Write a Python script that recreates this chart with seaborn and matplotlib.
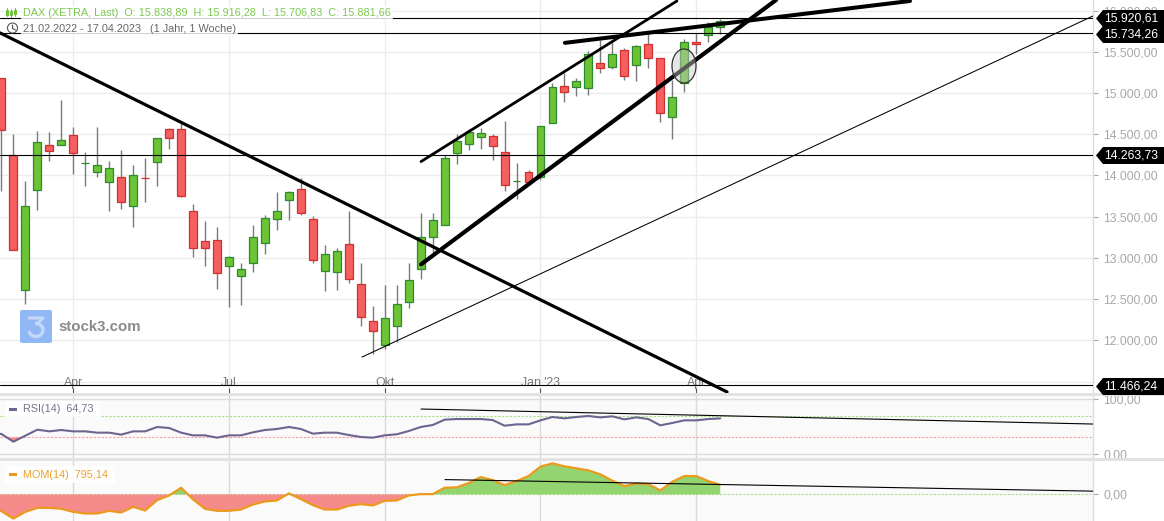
import numpy as np
import matplotlib
matplotlib.use("Agg")
import matplotlib.pyplot as plt
from matplotlib.patches import Ellipse, FancyBboxPatch, Polygon, Rectangle, Arc, Circle
import seaborn as sns

opens = [15185, 14253, 12608, 13818, 14374, 14374, 14495, 14157, 14048, 13915, 13987, 13624, 13975,
         14169, 14568, 14568, 13564, 13201, 13213, 12898, 12777, 12935, 13177, 13467, 13697, 13842,
         13467, 12838, 12826, 13165, 12681, 12233, 11942, 12172, 12463, 12862, 13249, 13394, 14278,
         14387, 14471, 14483, 14290, 13927, 14048, 13987, 14641, 15088, 15076, 15064, 15367, 15318,
         15524, 15342, 15597, 15427, 14713, 15125, 15621, 15705, 15802]
closes = [14556, 13092, 13624, 14411, 14302, 14435, 14278, 14157, 14132, 14096, 13673, 14011, 13970,
          14459, 14459, 13757, 13116, 13116, 12814, 13007, 12862, 13249, 13479, 13564, 13794, 13540,
          12971, 13044, 13080, 12741, 12281, 12112, 12269, 12439, 12729, 13249, 13455, 14217, 14423,
          14532, 14520, 14362, 13890, 13927, 13915, 14604, 15076, 15016, 15149, 15476, 15306, 15476,
          15209, 15572, 15427, 14762, 14955, 15621, 15597, 15802, 15875]
highs = [15185, 14508, 13939, 14544, 14532, 14919, 14592, 14290, 14592, 14181, 14314, 14132, 14217,
         14459, 14580, 14665, 13649, 13443, 13370, 13019, 12935, 13394, 13515, 13794, 13806, 13975,
         13503, 13153, 13116, 13564, 12935, 12414, 12668, 12668, 12935, 13540, 13540, 14253, 14508,
         14568, 14580, 14508, 14665, 14157, 14072, 14604, 15125, 15246, 15185, 15512, 15645, 15645,
         15548, 15584, 15730, 15427, 15161, 15657, 15730, 15863, 15899]
lows = [13806, 13092, 12439, 13576, 14181, 14374, 14024, 13878, 13987, 13564, 13588, 13370, 13673,
        13878, 14326, 13745, 13007, 12898, 12620, 12402, 12426, 12826, 13044, 13334, 13455, 13515,
        12935, 12596, 12608, 12693, 12172, 11833, 11894, 11979, 12390, 12741, 13056, 13394, 14145,
        14314, 14326, 14193, 13806, 13709, 13890, 13951, 14641, 14895, 14967, 14979, 15246, 15294,
        15161, 15149, 15306, 14653, 14447, 15016, 15476, 15621, 15718]

# indicator series start one week earlier than the first visible candle
rsi = [38.0, 36.4, 22.4, 33.3, 44.2, 41.2, 43.6, 41.2, 41.2, 38.8, 38.8, 35.2, 41.2, 41.2, 49.1, 47.3, 38.8,
       33.9, 33.9, 29.7, 33.9, 33.9, 39.4, 43.6, 45.5, 49.1, 45.5, 37.0, 38.8, 38.8, 34.5, 30.9, 29.7,
       33.9, 35.8, 41.8, 49.1, 52.7, 62.4, 63.6, 63.6, 63.6, 61.8, 51.5, 53.9, 53.9, 61.2, 67.3, 64.8,
       67.3, 69.1, 66.6, 68.5, 63.0, 66.6, 63.6, 52.1, 56.4, 61.2, 61.2, 63.6, 64.73]
mom = [-1000, -1380, -1987, -1435, -1104, -1104, -1187, -1435, -1573, -1573, -1352, -1490, -1021, -1325, -469,
       -83, 552, -414, -1187, -1352, -1352, -1242, -828, -580, -497, 83, -386, -883, -1242, -1242, -938,
       -800, -911, -524, -497, -83, 28, 28, 552, 580, 938, 1435, 1187, 773, 1104, 1518, 2291, 2567, 2318,
       2153, 1987, 1656, 1132, 690, 911, 856, 331, 1049, 1518, 1518, 1104, 795.14]

level_values = [15920.61, 15734.26, 14263.73, 11466.24]
price_ticks = [12000, 12500, 13000, 13500, 14000, 14500, 15000, 15500, 16000]
grid_extra = [11500]
month_pos = [6, 19, 32, 45, 58]
month_labels = ["Apr", "Jul", "Okt", "Jan '23", "Apr"]

# trend lines as (week index, value) pairs
thick_down = ([-0.12, 60.57], [15730, 11374])
upper_channel = ([35.03, 56.39], [14169, 16117])
lower_channel = ([35.03, 64.66], [12922, 16129])
top_line = ([47.04, 75.84], [15609, 16117])
thin_up = ([30.1, 91.12], [11797, 15935])
rsi_trend = ([35.03, 91.12], [81.8, 54.5])
mom_trend = ([37.03, 91.12], [1226, 273])

def de(v):
    return f"{v:,.2f}".replace(",", "#").replace(".", ",").replace("#", ".")

sns.set_theme(style="white")
plt.rcParams["font.family"] = ["Liberation Sans", "DejaVu Sans"]

W, H = 1164, 521
fig = plt.figure(figsize=(W / 100, H / 100), dpi=100, facecolor="white")

def panel(top, bottom):
    return fig.add_axes([0, 1 - bottom / H, 1093 / W, (bottom - top) / H])

ax = panel(0, 393)
ax_rsi = panel(396, 458)
ax_mom = panel(461, 521)

xlim = (-0.117, 91.12)
idx = np.arange(len(closes))
idx_ind = np.arange(-1, len(closes))
grid_c = "#ececec"
axis_c = "#dcdcdc"
tick_c = "#a8a8a8"

for a in (ax, ax_rsi, ax_mom):
    a.set_xlim(*xlim)
    a.yaxis.tick_right()
    for s in a.spines.values():
        s.set_visible(False)
    a.spines["right"].set_visible(True)
    a.spines["right"].set_color(axis_c)
    a.spines["right"].set_linewidth(1)
    a.tick_params(axis="y", length=3.6, width=0.8, color=tick_c, labelcolor=tick_c, labelsize=8.8, pad=4)
    a.set_xticks(month_pos)
    a.set_xlabel("")
    a.set_ylabel("")

# main price panel
ax.set_ylim(11361, 16129)
ax.set_yticks(price_ticks)
ax.set_yticklabels([de(v) for v in price_ticks])
for v in price_ticks + grid_extra:
    ax.axhline(v, color=grid_c, lw=1, zorder=0)
for p in month_pos:
    ax.axvline(p, color=grid_c, lw=1, zorder=0)
ax.set_xticklabels(month_labels)
ax.tick_params(axis="x", direction="in", length=3.6, width=0.8, color="#555555", labelcolor="#777777",
               labelsize=8.8, pad=-11.5, bottom=True)

ax.vlines(idx, lows, highs, color="#7a7a7a", lw=1, zorder=2)
for i in idx:
    up = closes[i] >= opens[i]
    ax.bar(i, abs(closes[i] - opens[i]), bottom=min(opens[i], closes[i]), width=0.66,
           color="#6cc334" if up else "#f45f5f", edgecolor="#2c8a30" if up else "#d22f2f",
           linewidth=0.9, zorder=3)

for v in level_values:
    ax.axhline(v - 10, color="black", lw=0.8, zorder=4)

for line, lw in ((thick_down, 2.3), (upper_channel, 2.0), (lower_channel, 3.0), (top_line, 2.9), (thin_up, 0.75)):
    sns.lineplot(x=line[0], y=line[1], ax=ax, color="black", lw=lw, zorder=5, errorbar=None, estimator=None)
ax.set_xlim(*xlim)
ax.set_ylim(11361, 16129)
ax.set_xlabel("")
ax.set_ylabel("")

# RSI panel
ax_rsi.set_facecolor("#fafafa")
ax_rsi.set_ylim(-7.3, 105.5)
ax_rsi.set_yticks([0, 100])
ax_rsi.set_yticklabels(["0,00", "100,00"])
ax_rsi.tick_params(axis="x", length=0, labelbottom=False)
for v in (0, 100):
    ax_rsi.axhline(v, color="#dedede", lw=1, zorder=0)
for p in month_pos:
    ax_rsi.axvline(p, color="#dadada", lw=1, zorder=0)
ax_rsi.plot([-0.1, 91.0], [70, 70], color="#a9dc85", lw=0.8, ls=(0, (2, 1.5)), zorder=1)
ax_rsi.plot([-0.1, 91.0], [30, 30], color="#f4a0a0", lw=0.8, ls=(0, (2, 1.5)), zorder=1)
ax_rsi.fill_between(idx_ind, rsi, 30, where=np.array(rsi) < 30, interpolate=True, color="#f48a8a", lw=0, zorder=2)
sns.lineplot(x=idx_ind, y=rsi, ax=ax_rsi, color="#6c6590", lw=1.5, zorder=3, errorbar=None, estimator=None)
sns.lineplot(x=rsi_trend[0], y=rsi_trend[1], ax=ax_rsi, color="black", lw=0.8, zorder=4, errorbar=None, estimator=None)
ax_rsi.set_xlim(*xlim)
ax_rsi.set_xlabel("")
ax_rsi.set_ylabel("")

# momentum panel
ax_mom.set_facecolor("#fafafa")
ax_mom.set_ylim(-2190, 2760)
ax_mom.set_yticks([0])
ax_mom.set_yticklabels(["0,00"])
ax_mom.tick_params(axis="x", length=0, labelbottom=False)
for p in month_pos:
    ax_mom.axvline(p, color="#dadada", lw=1, zorder=0)
ax_mom.plot([-0.1, 91.0], [0, 0], color="#a9dc85", lw=0.8, ls=(0, (2, 1.5)), zorder=1)
m = np.array(mom)
ax_mom.fill_between(idx_ind, m, 0, where=m < 0, interpolate=True, color="#f48a8a", lw=0, zorder=2)
ax_mom.fill_between(idx_ind, m, 0, where=m > 0, interpolate=True, color="#94d470", lw=0, zorder=2)
sns.lineplot(x=idx_ind, y=mom, ax=ax_mom, color="#ec9a1e", lw=1.6, zorder=3, errorbar=None, estimator=None)
sns.lineplot(x=mom_trend[0], y=mom_trend[1], ax=ax_mom, color="black", lw=0.8, zorder=4, errorbar=None, estimator=None)
ax_mom.set_xlim(*xlim)
ax_mom.set_xlabel("")
ax_mom.set_ylabel("")

# overlay in pixel coordinates for labels, separators and the logo
ov = fig.add_axes([0, 0, 1, 1], zorder=10)
ov.set_xlim(0, W)
ov.set_ylim(H, 0)
ov.axis("off")
ov.patch.set_alpha(0)

ov.add_patch(Rectangle((0, 393), W, 3, color="#e2e2e2", lw=0))
ov.add_patch(Rectangle((0, 458), W, 3, color="#e2e2e2", lw=0))

box = dict(facecolor="white", edgecolor="none", alpha=0.82, pad=1.5)
ov.text(23, 13.5, "DAX (XETRA, Last)  O: 15.838,89  H: 15.916,28  L: 15.706,83  C: 15.881,66",
        color="#7cc850", fontsize=7.85, va="center", bbox=box)
ov.text(23, 29, "21.02.2022 - 17.04.2023   (1 Jahr, 1 Woche)", color="#666666", fontsize=7.85, va="center", bbox=box)

# header icons
for x, y0, y1, b0, b1 in ((7, 8, 16, 10, 15), (11, 9, 17, 11, 15), (15, 8, 16, 10, 14)):
    ov.plot([x, x], [y0, y1], color="#6cc334", lw=0.8)
    ov.add_patch(Rectangle((x - 1, b0), 2, b1 - b0, facecolor="white", edgecolor="#6cc334", lw=0.7))
ov.add_patch(Circle((12.5, 28), 5, facecolor="white", edgecolor="#555555", lw=0.8))
ov.plot([12.5, 12.5, 15.5], [25, 28.5, 30], color="#555555", lw=0.8)

# watermark
ov.add_patch(FancyBboxPatch((20, 310), 32, 33, boxstyle="round,pad=0,rounding_size=2", facecolor="#8fb8f5", edgecolor="none"))
ov.plot([28, 43, 37], [318, 318, 324], color="#c4d8fa", lw=2.2, solid_capstyle="butt")
ov.add_patch(Arc((36, 330), 14, 13, theta1=-100, theta2=170, edgecolor="#c4d8fa", lw=2.4))
ov.text(58, 327, "stock3.com", color="#8a8a8a", fontsize=10.8, fontweight="bold", va="center")

# highlighted ellipse
ov.add_patch(Ellipse((684, 66), 24, 34, facecolor="#c8c8c8", alpha=0.45, edgecolor="none"))
ov.add_patch(Ellipse((684, 66), 24, 34, facecolor="none", edgecolor="#333333", lw=0.9))

# price tags on the right
for y, v in zip((18.5, 34.5, 155.5, 386.5), level_values):
    ov.add_patch(Polygon([(1096, y), (1103, y - 8.5), (1164, y - 8.5), (1164, y + 8.5), (1103, y + 8.5)],
                         closed=True, facecolor="black", edgecolor="none"))
    ov.text(1104, y + 0.3, de(v), color="white", fontsize=8.8, va="center")

# indicator legends
ov.add_patch(Rectangle((5, 401), 95, 16, facecolor="white", edgecolor="none", alpha=0.85))
ov.add_patch(Rectangle((9, 408), 8, 3, facecolor="#6c6590", edgecolor="none"))
ov.text(23, 409.5, "RSI(14)  64,73", color="#77728f", fontsize=7.85, va="center")
ov.add_patch(Rectangle((5, 466), 110, 17, facecolor="white", edgecolor="none", alpha=0.85))
ov.add_patch(Rectangle((9, 473), 8, 3, facecolor="#ec9a1e", edgecolor="none"))
ov.text(23, 474.5, "MOM(14)  795,14", color="#eda02c", fontsize=7.85, va="center")

fig.savefig("out.png", dpi=100)
